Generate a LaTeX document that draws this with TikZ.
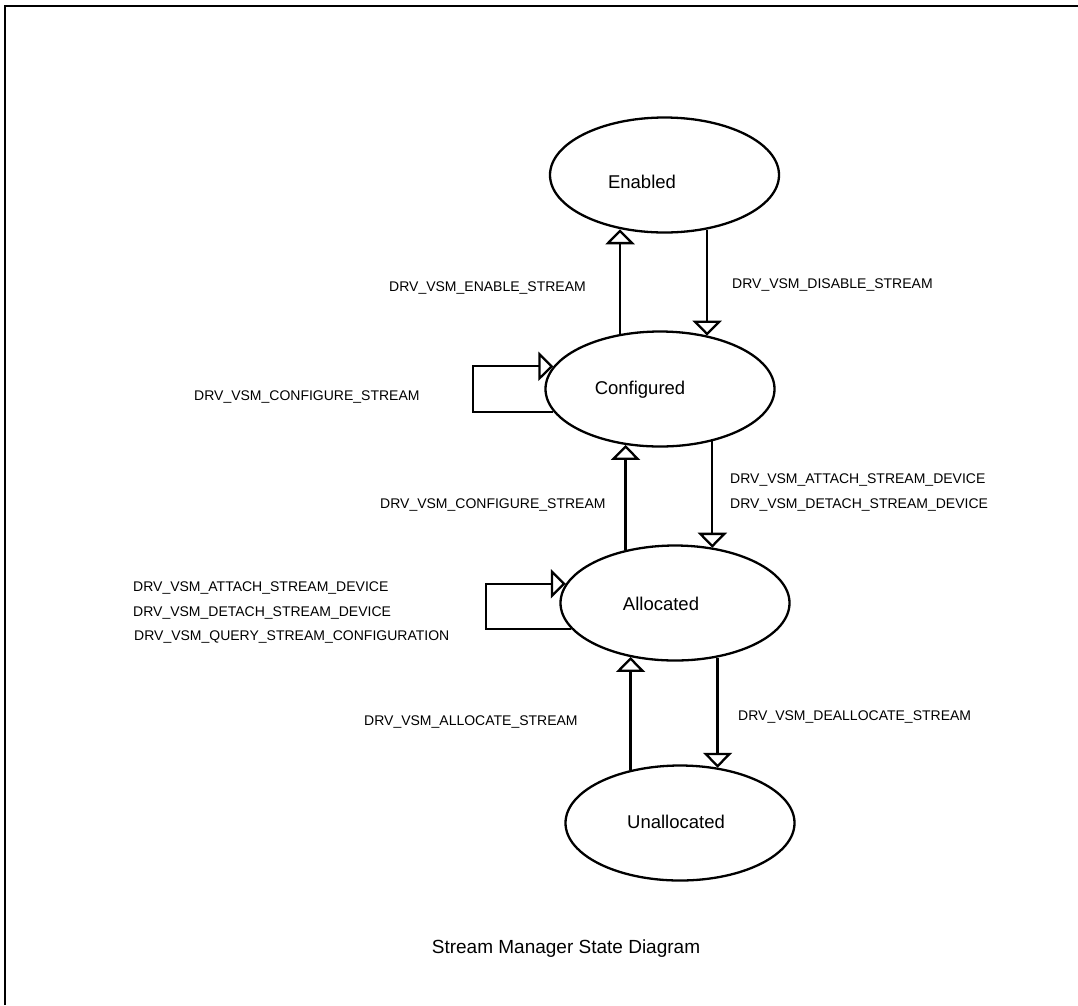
\documentclass[tikz,border=0pt]{standalone}
\usepackage{fontspec}
\setmainfont{Liberation Sans}
\usetikzlibrary{arrows.meta,shapes.geometric}
\begin{document}
\begin{tikzpicture}[x=1pt,y=-1pt,
  state/.style={draw, ellipse, line width=2.3pt, minimum width=229pt, minimum height=115pt, inner sep=0pt},
  statename/.style={font=\fontsize{18.5}{22}\selectfont, inner sep=0pt},
  cmd/.style={font=\fontsize{14}{17}\selectfont, inner sep=0pt, anchor=west},
  trans/.style={line width=2.3pt, -{Triangle[open, width=29pt, length=15pt]}},
  frameline/.style={line width=1.8pt},
]
\useasboundingbox (0,0) rectangle (1078,1005);

% outer frame (top and left edges)
\coordinate (fr0) at (5,1005);
\coordinate (fr1) at (5,6);
\coordinate (fr2) at (1078,6);
\draw[frameline] (fr0) -- (fr1) -- (fr2);

% states
\node[state] (E) at (664.5,175) {};
\node[state] (C) at (660,389) {};
\node[state] (A) at (675,603) {};
\node[state] (U) at (680,823) {};

\node[statename] (Et) at (642,182) {Enabled};
\node[statename] (Ct) at (640,390) {Configured};
\node[statename] (At) at (661,604) {Allocated};
\node[statename] (Ut) at (676,822) {Unallocated};

% transitions between states
\draw[trans] (C.126) -- (C.126 |- E.231);
\draw[trans] (E.308.5) -- (E.308.5 |- C.48);
\draw[trans] (A.133.3) -- (A.133.3 |- C.238);
\draw[trans] (C.315.4) -- (C.315.4 |- A.55.8);
\draw[trans] (U.133.3) -- (U.133.3 |- A.230.4);
\draw[trans] (A.308.9) -- (A.308.9 |- U.55);

% self loops
\coordinate (cl) at (473,0);
\coordinate (al) at (486,0);
\draw[trans] (C.192.4) -- (C.192.4 -| cl) |- (C.168.9);
\draw[trans] (A.194.3) -- (A.194.3 -| al) |- (A.170);

% transition labels
\node[cmd] (l1) at (389,288) {DRV\_VSM\_ENABLE\_STREAM};
\node[cmd] (l2) at (732,285) {DRV\_VSM\_DISABLE\_STREAM};
\node[cmd] (l3) at (194,397) {DRV\_VSM\_CONFIGURE\_STREAM};
\node[cmd] (l4) at (380,505) {DRV\_VSM\_CONFIGURE\_STREAM};
\node[cmd] (l5) at (730,480) {DRV\_VSM\_ATTACH\_STREAM\_DEVICE};
\node[cmd] (l6) at (730,505) {DRV\_VSM\_DETACH\_STREAM\_DEVICE};
\node[cmd] (l7) at (133,588) {DRV\_VSM\_ATTACH\_STREAM\_DEVICE};
\node[cmd] (l8) at (133,613) {DRV\_VSM\_DETACH\_STREAM\_DEVICE};
\node[cmd] (l9) at (134,637) {DRV\_VSM\_QUERY\_STREAM\_CONFIGURATION};
\node[cmd] (l10) at (364,722) {DRV\_VSM\_ALLOCATE\_STREAM};
\node[cmd] (l11) at (738,717) {DRV\_VSM\_DEALLOCATE\_STREAM};

% caption
\node[font=\fontsize{19}{23}\selectfont, inner sep=0pt] (title) at (566,949) {Stream Manager State Diagram};
\end{tikzpicture}
\end{document}
